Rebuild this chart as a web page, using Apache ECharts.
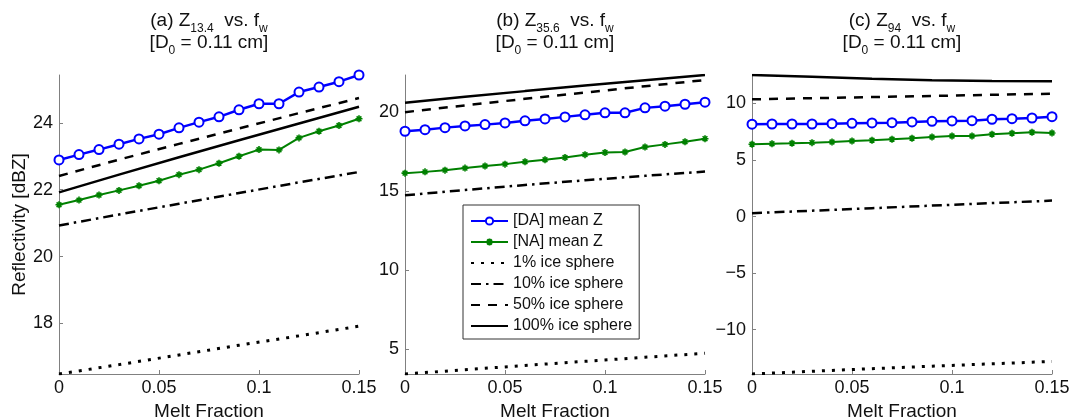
<!DOCTYPE html>
<html><head><meta charset="utf-8">
<script src="https://cdn.jsdelivr.net/npm/echarts@6/dist/echarts.min.js"></script>
<style>html,body{margin:0;padding:0;background:#fff}#c{width:1071px;height:418px}</style>
</head><body><div id="c"></div>
<script>
// ---- data ----
const meltFraction = [0, 0.01, 0.02, 0.03, 0.04, 0.05, 0.06, 0.07, 0.08, 0.09, 0.10, 0.11, 0.12, 0.13, 0.14, 0.15];
const iceFraction = [0, 0.03, 0.06, 0.09, 0.12, 0.15];
const xTicks = [0, 0.05, 0.1, 0.15];

// (a) Z13.4
const aDA = [22.89, 23.05, 23.20, 23.36, 23.52, 23.66, 23.85, 24.02, 24.18, 24.39, 24.57, 24.57, 24.92, 25.07, 25.23, 25.43];
const aNA = [21.55, 21.69, 21.84, 21.98, 22.12, 22.27, 22.45, 22.60, 22.79, 23.00, 23.20, 23.19, 23.55, 23.75, 23.92, 24.12];
const aIce1 = [16.49, 16.77, 17.06, 17.35, 17.63, 17.92];
const aIce10 = [20.93, 21.26, 21.58, 21.90, 22.22, 22.53];
const aIce50 = [22.41, 22.90, 23.37, 23.83, 24.29, 24.74];
const aIce100 = [21.92, 22.45, 22.97, 23.48, 23.98, 24.48];

// (b) Z35.6
const bDA = [18.77, 18.87, 19.00, 19.11, 19.19, 19.30, 19.43, 19.55, 19.68, 19.81, 19.94, 19.94, 20.25, 20.36, 20.48, 20.61];
const bNA = [16.12, 16.20, 16.31, 16.44, 16.57, 16.69, 16.84, 16.97, 17.11, 17.29, 17.43, 17.46, 17.77, 17.94, 18.11, 18.30];
const bIce1 = [3.41, 3.68, 3.95, 4.21, 4.47, 4.72];
const bIce10 = [14.72, 15.05, 15.37, 15.67, 15.95, 16.22];
const bIce50 = [19.98, 20.41, 20.82, 21.22, 21.62, 22.01];
const bIce100 = [20.57, 20.95, 21.31, 21.66, 22.00, 22.33];

// (c) Z94
const cDA = [8.16, 8.18, 8.18, 8.18, 8.21, 8.24, 8.27, 8.30, 8.36, 8.42, 8.45, 8.47, 8.60, 8.65, 8.71, 8.83];
const cNA = [6.39, 6.44, 6.48, 6.53, 6.59, 6.68, 6.74, 6.83, 6.92, 7.03, 7.12, 7.12, 7.27, 7.36, 7.45, 7.39];
const cIce1 = [-13.91, -13.67, -13.44, -13.22, -13.01, -12.80];
const cIce10 = [0.30, 0.52, 0.74, 0.97, 1.19, 1.41];
const cIce50 = [10.36, 10.46, 10.56, 10.66, 10.76, 10.86];
const cIce100 = [12.51, 12.35, 12.17, 12.05, 11.98, 11.96];

const yTicksA = [18, 20, 22, 24];
const yTicksB = [5, 10, 15, 20];
const yTicksC = [-10, -5, 0, 5, 10];

const panelLabels = ['(a)', '(b)', '(c)'];
const freqLabels = ['13.4', '35.6', '94'];
const seriesNames = ['[DA] mean Z', '[NA] mean Z', '1% ice sphere', '10% ice sphere', '50% ice sphere', '100% ice sphere'];

// ---- chart ----
const panels = [
  {DA: aDA, NA: aNA, ice: [aIce1, aIce10, aIce50, aIce100], ticks: yTicksA},
  {DA: bDA, NA: bNA, ice: [bIce1, bIce10, bIce50, bIce100], ticks: yTicksB},
  {DA: cDA, NA: cNA, ice: [cIce1, cIce10, cIce50, cIce100], ticks: yTicksC}
];
const gridLeft = [59, 405, 752];
const FONT = '"Liberation Sans", Arial, Helvetica, sans-serif';
const axisGray = '#808080';
const pair = (xs, ys) => xs.map((x, i) => [x, ys[i]]);
const asterisk = 'path://M0,5L10,5M5,0L5,10M1.6,1.6L8.4,8.4M1.6,8.4L8.4,1.6';
const iceStyles = [
  {type: [3, 7], width: 3},
  {type: [10, 5, 2.5, 5], width: 2.5},
  {type: [9, 8], width: 2.5},
  {type: 'solid', width: 2.5}
];

const grids = [], xAxes = [], yAxes = [], series = [], titles = [];
panels.forEach((p, k) => {
  grids.push({left: gridLeft[k], top: 75, width: 300, height: 299, outerBoundsMode: 'none', containLabel: false});
  const all = p.DA.concat(p.NA, ...p.ice);
  const ymin = Math.min(...all), ymax = Math.max(...all);
  xAxes.push({
    type: 'value', gridIndex: k, min: 0, max: 0.15,
    name: 'Melt Fraction', nameLocation: 'middle', nameGap: 21,
    nameTextStyle: {fontFamily: FONT, fontSize: 19, color: '#111'},
    axisLine: {show: true, onZero: false, lineStyle: {color: axisGray, width: 1}},
    axisTick: {show: true, inside: true, length: 4, customValues: xTicks, lineStyle: {color: axisGray}},
    axisLabel: {customValues: xTicks, fontFamily: FONT, fontSize: 18, color: '#111', margin: 5,
      formatter: v => String(+v.toFixed(2))},
    splitLine: {show: false}
  });
  yAxes.push({
    type: 'value', gridIndex: k, min: ymin, max: ymax,
    name: k === 0 ? 'Reflectivity [dBZ]' : '', nameLocation: 'middle', nameGap: 29,
    nameTextStyle: {fontFamily: FONT, fontSize: 19, color: '#111'},
    axisLine: {show: true, onZero: false, lineStyle: {color: axisGray, width: 1}},
    axisTick: {show: true, inside: true, length: 4, customValues: p.ticks, lineStyle: {color: axisGray}},
    axisLabel: {customValues: p.ticks, fontFamily: FONT, fontSize: 18, color: '#111', margin: 6,
      formatter: v => v < 0 ? '\u2212' + Math.abs(v) : String(v)},
    splitLine: {show: false}
  });
  titles.push({
    left: gridLeft[k] + 150, top: 10, textAlign: 'center', padding: 0,
    text: panelLabels[k] + ' Z{s|' + freqLabels[k] + '}  vs. f{s|w}\n[D{s|0} = 0.11 cm]',
    textStyle: {fontFamily: FONT, fontSize: 19, fontWeight: 'normal', color: '#111', lineHeight: 22,
      rich: {s: {fontFamily: FONT, fontSize: 12, color: '#111', lineHeight: 8, padding: [15, 0, 0, 0]}}}
  });
  const base = {type: 'line', xAxisIndex: k, yAxisIndex: k, animation: false, silent: true};
  p.ice.forEach((vals, j) => {
    series.push(Object.assign({}, base, {
      name: seriesNames[2 + j], data: pair(iceFraction, vals), symbol: 'none', showSymbol: false,
      lineStyle: {color: '#000', width: iceStyles[j].width, type: iceStyles[j].type, cap: 'butt'},
      itemStyle: {color: '#000', opacity: 0}, z: 2
    }));
  });
  series.push(Object.assign({}, base, {
    name: seriesNames[1], data: pair(meltFraction, p.NA), symbol: asterisk, symbolSize: 7,
    lineStyle: {color: '#008000', width: 2},
    itemStyle: {color: '#008000', borderColor: '#008000', borderWidth: 1.6}, z: 3
  }));
  series.push(Object.assign({}, base, {
    name: seriesNames[0], data: pair(meltFraction, p.DA), symbol: 'emptyCircle', symbolSize: 9,
    lineStyle: {color: '#0000ff', width: 2.5},
    itemStyle: {color: '#0000ff', borderColor: '#0000ff', borderWidth: 2}, z: 4
  }));
});

const legendData = seriesNames.map((n, i) => i < 2 ? {name: n} : {name: n, itemStyle: {opacity: 0}});

const chart = echarts.init(document.getElementById('c'), null, {renderer: 'canvas'});
chart.setOption({
  backgroundColor: '#fff',
  animation: false,
  title: titles,
  grid: grids,
  xAxis: xAxes,
  yAxis: yAxes,
  legend: {
    data: legendData, orient: 'vertical', left: 463, top: 205,
    padding: [8, 7, 5, 7], itemWidth: 37, itemHeight: 9, itemGap: 5,
    backgroundColor: '#fff', borderColor: '#333', borderWidth: 1, borderRadius: 0,
    selectedMode: false,
    textStyle: {fontFamily: FONT, fontSize: 16, color: '#111', lineHeight: 16}
  },
  series: series
});
</script></body></html>
